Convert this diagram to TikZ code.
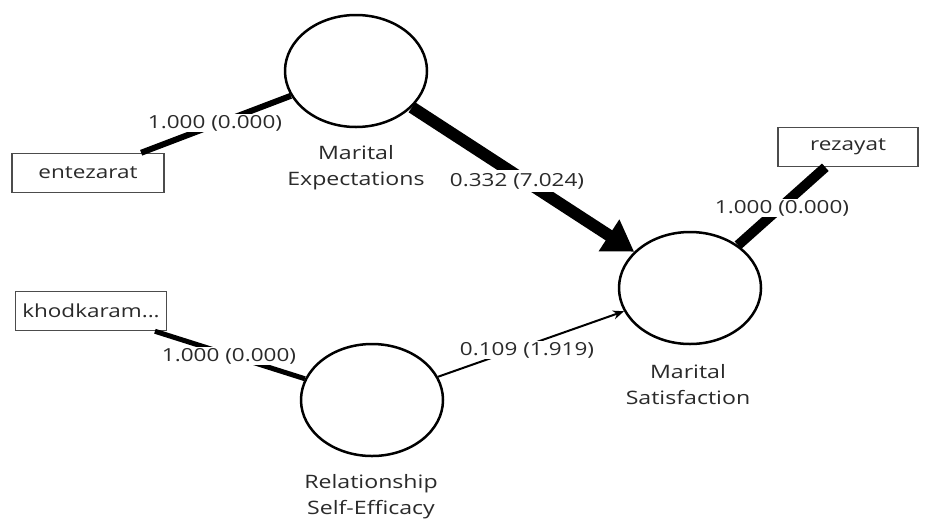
\documentclass[tikz,border=0pt]{standalone}
\usepackage{fontspec}
\setmainfont{Open Sans}[FakeStretch=1.25]
\usetikzlibrary{shapes.geometric,arrows.meta}
\definecolor{txt}{HTML}{2A2A2A}
\tikzset{
  lv/.style={ellipse,draw=black,line width=2.5pt,minimum width=142pt,minimum height=112pt,inner sep=0pt},
  ind/.style={rectangle,draw=black!70,line width=1.5pt,minimum height=39pt,inner sep=0pt,font=\fontsize{18}{20}\selectfont,text=txt},
  lvlab/.style={align=center,font=\fontsize{18.5}{26}\selectfont,text=txt},
  coef/.style={fill=white,inner sep=1pt,font=\fontsize{18}{20}\selectfont,text=txt},
}
\begin{document}
\begin{tikzpicture}[x=1pt,y=-1pt]
\useasboundingbox[fill=white] (0,0) rectangle (925,520);
% latent variables
\node[lv] (me) at (356,71) {};
\node[lv] (ms) at (690,288) {};
\node[lv] (rse) at (372,400) {};
% indicators
\node[ind,minimum width=152pt] (ent) at (88,173) {entezarat};
\node[ind,minimum width=151pt] (kho) at (91,311) {khodkaram...};
\node[ind,minimum width=140pt] (rez) at (848,147) {rezayat};
% labels
\node[lvlab] (mel) at (356,168) {Marital\\Expectations};
\node[lvlab] (msl) at (688,385) {Marital\\Satisfaction};
\node[lvlab] (rsel) at (371,497) {Relationship\\Self-Efficacy};
% connectors
\draw[line width=6pt] (ent) -- (me);
\draw[line width=5pt] (kho) -- (rse);
\draw[line width=10pt] (rez) -- (ms);
\draw[line width=12pt,-{Triangle[length=30pt,width=36pt]}] (me) -- (ms);
\draw[line width=2pt,-{Stealth[length=11pt,width=9pt]}] (rse) -- (ms);
% coefficients
\node[coef] (c1) at (215,123) {1.000 (0.000)};
\node[coef] (c2) at (229,356) {1.000 (0.000)};
\node[coef] (c3) at (782,208) {1.000 (0.000)};
\node[coef,inner sep=3pt] (c4) at (517,181) {0.332 (7.024)};
\node[coef] (c5) at (527,350) {0.109 (1.919)};
\end{tikzpicture}
\end{document}
